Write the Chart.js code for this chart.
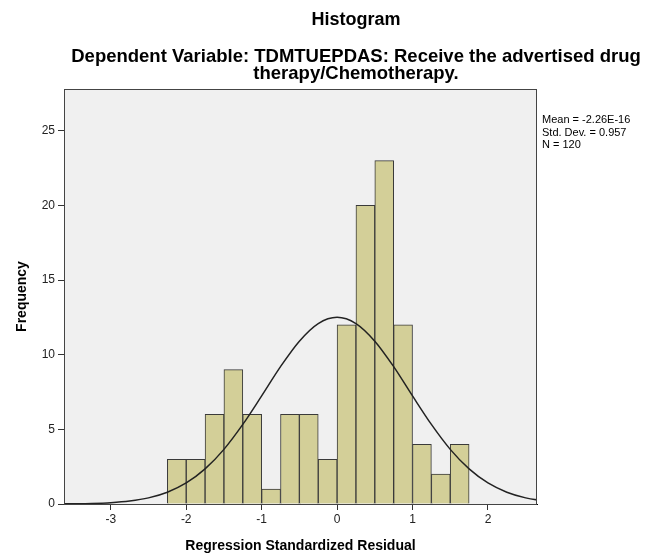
<!DOCTYPE html>
<html lang="en">
<head>
    <meta charset="UTF-8">
    <title>Histogram</title>
    <script src="https://cdn.jsdelivr.net/npm/chart.js"></script>
    <style>
        body { margin: 0; background: #fff; }
        .wrap { width: 647px; height: 558px; }
    </style>
</head>
<body>
    <div class="wrap"><canvas id="histChart" width="647" height="558"></canvas></div>

    <script>
        // bins of 0.25, centers from -2.125 to 1.625
        const binCenters = [-2.125, -1.875, -1.625, -1.375, -1.125, -0.875, -0.625, -0.375,
                            -0.125, 0.125, 0.375, 0.625, 0.875, 1.125, 1.375, 1.625];
        const counts = [3, 3, 6, 9, 6, 1, 6, 6, 3, 12, 20, 23, 12, 4, 2, 4];

        // normal curve
        const curveX = [-3.75, -3.5, -3.25, -3, -2.75, -2.5, -2.25, -2, -1.75, -1.5, -1.25, -1, -0.75, -0.5, -0.25,
                        0, 0.25, 0.5, 0.75, 1, 1.25, 1.5, 1.75, 2, 2.25, 2.5, 2.75];
        const curveY = [0.01, 0.02, 0.04, 0.09, 0.2, 0.41, 0.79, 1.41, 2.35, 3.66, 5.33, 7.24, 9.2, 10.91, 12.09,
                        12.51, 12.09, 10.91, 9.2, 7.24, 5.33, 3.66, 2.35, 1.41, 0.79, 0.41, 0.2];

        const statsLines = ['Mean = -2.26E-16', 'Std. Dev. = 0.957', 'N = 120'];
        const titleText = 'Histogram';
        const subtitleLines = ['Dependent Variable: TDMTUEPDAS: Receive the advertised drug',
                               'therapy/Chemotherapy.'];

        const FONT = '"Liberation Sans", Arial, sans-serif';

        // gray plot background + frame, titles and stats box
        const spssDecor = {
            id: 'spssDecor',
            beforeDatasetsDraw(chart) {
                const { ctx, chartArea: a } = chart;
                ctx.save();
                ctx.fillStyle = '#f0f0f0';
                ctx.fillRect(a.left, a.top, a.right - a.left, a.bottom - a.top);
                ctx.restore();
            },
            afterDraw(chart) {
                const { ctx, chartArea: a } = chart;
                ctx.save();
                ctx.strokeStyle = '#444';
                ctx.lineWidth = 1;
                ctx.strokeRect(a.left + 0.5, a.top + 0.5, a.right - a.left - 1, a.bottom - a.top);

                ctx.fillStyle = '#000';
                ctx.textAlign = 'center';
                ctx.textBaseline = 'middle';
                ctx.font = 'bold 18px ' + FONT;
                ctx.fillText(titleText, 356, 20);
                ctx.font = 'bold 18.5px ' + FONT;
                ctx.fillText(subtitleLines[0], 356, 57);
                ctx.fillText(subtitleLines[1], 356, 74);

                ctx.textAlign = 'left';
                ctx.font = '11px ' + FONT;
                statsLines.forEach((t, i) => ctx.fillText(t, 542, 120 + i * 12.5));
                ctx.restore();
            }
        };

        const ctx = document.getElementById('histChart').getContext('2d');
        const histChart = new Chart(ctx, {
            type: 'bar',
            data: {
                datasets: [{
                    type: 'bar',
                    data: binCenters.map((c, i) => ({ x: c, y: counts[i] })),
                    backgroundColor: '#d3cf98',
                    borderColor: '#3a3a3a',
                    borderWidth: 1,
                    barPercentage: 1,
                    categoryPercentage: 1,
                    order: 2
                }, {
                    type: 'line',
                    data: curveX.map((x, i) => ({ x: x, y: curveY[i] })),
                    borderColor: '#222',
                    borderWidth: 1.5,
                    pointRadius: 0,
                    cubicInterpolationMode: 'monotone',
                    fill: false,
                    order: 1
                }]
            },
            options: {
                responsive: false,
                animation: false,
                layout: { padding: { top: 89, right: 110, left: 0, bottom: 0 } },
                plugins: {
                    legend: { display: false },
                    tooltip: { enabled: false }
                },
                scales: {
                    x: {
                        type: 'linear',
                        min: -3.62,
                        max: 2.65,
                        offset: false,
                        afterFit(scale) { scale.height = 54; },
                        grid: { offset: false, drawOnChartArea: false, drawTicks: true, tickLength: 6, tickColor: '#333' },
                        border: { color: '#000' },
                        ticks: {
                            stepSize: 1,
                            includeBounds: false,
                            color: '#222',
                            padding: 2,
                            font: { family: FONT, size: 12 }
                        },
                        title: {
                            display: true,
                            text: 'Regression Standardized Residual',
                            color: '#000',
                            font: { family: FONT, size: 14, weight: 'bold' },
                            padding: { top: 0, bottom: 3 }
                        }
                    },
                    y: {
                        min: 0,
                        max: 27.8,
                        afterFit(scale) { scale.width = 64; },
                        grid: { drawOnChartArea: false, drawTicks: true, tickLength: 6, tickColor: '#333' },
                        border: { color: '#444' },
                        ticks: {
                            stepSize: 5,
                            includeBounds: false,
                            color: '#222',
                            padding: 3,
                            font: { family: FONT, size: 12 }
                        },
                        title: {
                            display: true,
                            text: 'Frequency',
                            color: '#000',
                            font: { family: FONT, size: 14, weight: 'bold' },
                            padding: { top: 14, bottom: 0 }
                        }
                    }
                }
            },
            plugins: [spssDecor]
        });
    </script>
</body>
</html>
